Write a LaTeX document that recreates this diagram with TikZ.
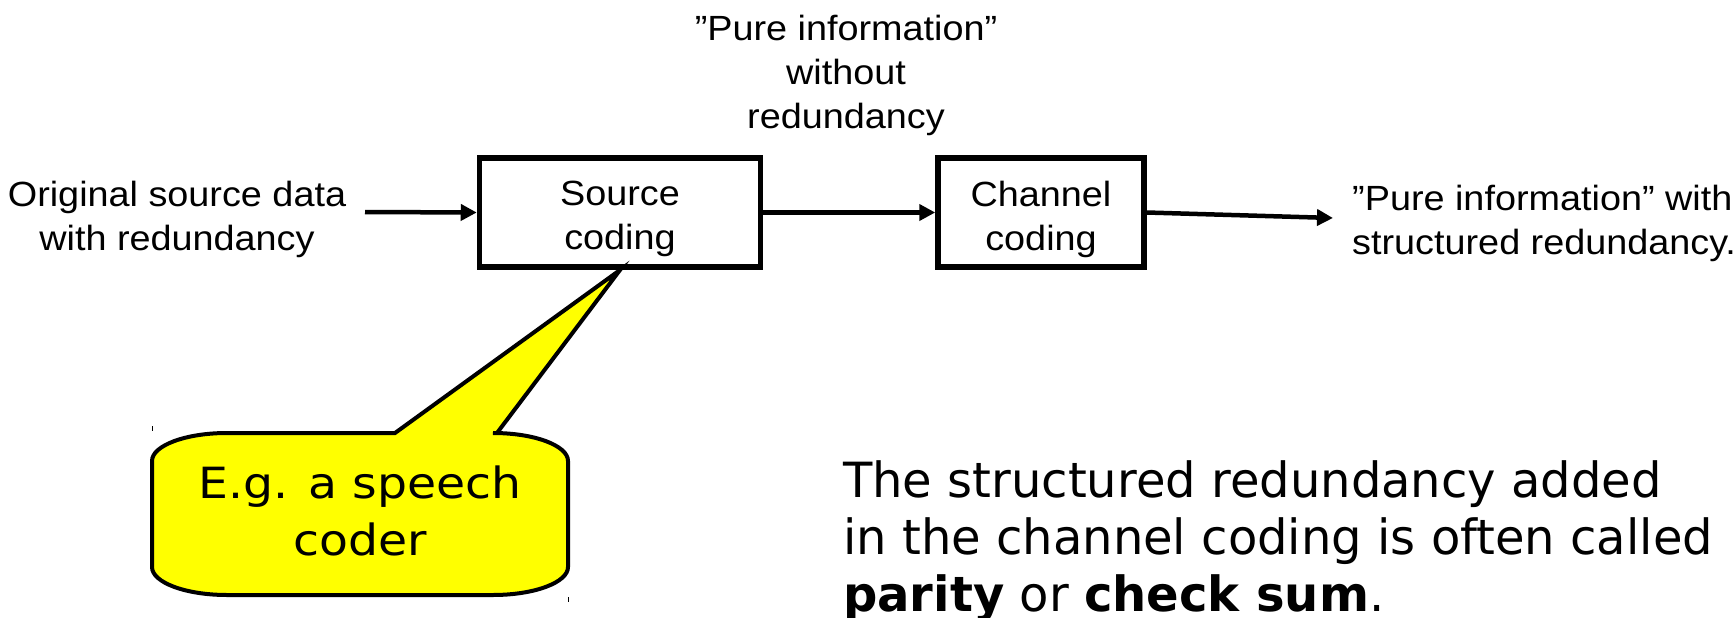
\documentclass[tikz,border=0pt]{standalone}
\usepackage{fontspec}
\usetikzlibrary{arrows.meta}
\newfontfamily\libsans[FakeStretch=1.08]{Liberation Sans}
\newfontfamily\dvcall[FakeStretch=1.1]{DejaVu Sans}
\newfontfamily\dvnote[FakeStretch=0.99]{DejaVu Sans}
\tikzset{
  lbl/.style={inner sep=0pt, font=\libsans\fontsize{35}{44}\selectfont},
  blockbox/.style={draw, line width=5.5pt, minimum height=109pt, inner sep=0pt},
  blocktext/.style={inner sep=0pt, align=center, font=\libsans\fontsize{35}{44}\selectfont},
  flow/.style={line width=4.5pt, -{Triangle[length=16pt,width=16pt]}},
  callouttext/.style={inner sep=0pt, align=center, font=\dvcall\fontsize{43}{57}\selectfont},
  notetext/.style={inner sep=0pt, align=left, font=\dvnote\fontsize{48.5}{57}\selectfont},
}
\begin{document}
\begin{tikzpicture}[x=1pt,y=-1pt]
\useasboundingbox (0,0) rectangle (1735,618);
% labels
\node[lbl, align=center] (orig) at (177,219) {Original source data\\with redundancy};
\node[lbl, align=center] (pure) at (846,75) {”Pure information”\\without\\redundancy};
\node[lbl, align=left, anchor=west] (out) at (1352,223) {”Pure information” with\\structured redundancy.};
% blocks
\node[blockbox, minimum width=281pt] (src) at (620,212.5) {};
\node[blockbox, minimum width=206pt] (ch) at (1041,212.5) {};
\node[blocktext] (srct) at (620,219) {Source\\coding};
\node[blocktext] (cht) at (1041,219) {Channel\\coding};
% connectors
\coordinate (in) at (365,212);
\coordinate (outend) at (1333,218);
\draw[flow] (in) -- (src.west);
\draw[flow] (src.east) -- (ch.west);
\draw[flow] (ch.east) -- (outend);
% callout
\coordinate (tip) at (620,270);
\draw[line width=4pt, fill={rgb,255:red,255;green,255;blue,0}, line join=miter]
  (395,433) -- (tip) -- (497,433) -- (493,433)
  .. controls (534.4,433) and (568,445.5) .. (568,461)
  -- (568,567)
  .. controls (568,582.5) and (534.4,595) .. (493,595)
  -- (227,595)
  .. controls (185.6,595) and (152,582.5) .. (152,567)
  -- (152,461)
  .. controls (152,445.5) and (185.6,433) .. (227,433)
  -- cycle;
\draw[line width=1pt] (152,426) -- (152,431);
\draw[line width=1pt] (568,597) -- (568,602);
\node[callouttext] (speech) at (360,511) {E.g. a speech\\coder};
% note
\node[notetext, anchor=west] (note) at (843,541) {The structured redundancy added\\in the channel coding is often called\\\textbf{parity} or \textbf{check sum}.};
\end{tikzpicture}
\end{document}
